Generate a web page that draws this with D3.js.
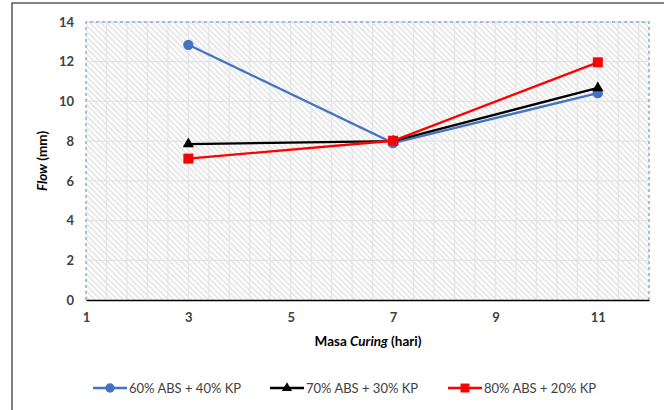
<!DOCTYPE html>
<html>
<head>
<meta charset="utf-8">
<script src="https://cdn.jsdelivr.net/npm/d3@7"></script>
<style>
  html, body { margin: 0; padding: 0; background: #fff; }
  svg { display: block; font-family: Lato, "Open Sans", "Liberation Sans", sans-serif; }
</style>
</head>
<body>
<svg id="chart" width="664" height="410"></svg>
<script>
// Curing time (days) on the x axis
const days = [3, 7, 11];
// Flow (mm) per mix
const flowAbs60 = [12.85, 7.9, 10.42];
const flowAbs70 = [7.85, 8.0, 10.68];
const flowAbs80 = [7.12, 8.02, 11.97];
const seriesNames = ["60% ABS + 40% KP", "70% ABS + 30% KP", "80% ABS + 20% KP"];
const xTicks = [1, 3, 5, 7, 9, 11];
const yTicks = [0, 2, 4, 6, 8, 10, 12, 14];

const series = [
  { name: seriesNames[0], values: flowAbs60, color: "#4472c4", symbol: d3.symbolCircle, size: 85 },
  { name: seriesNames[1], values: flowAbs70, color: "#000000", symbol: d3.symbolTriangle, size: 55 },
  { name: seriesNames[2], values: flowAbs80, color: "#ff0000", symbol: d3.symbolSquare, size: 100 }
];

const svg = d3.select("#chart");
const plot = { left: 86, right: 649, top: 22, bottom: 300 };

const x = d3.scaleLinear().domain([1, 12]).range([plot.left, plot.right]);
const y = d3.scaleLinear().domain([0, 14]).range([plot.bottom, plot.top]);

// Outer chart frame
svg.append("rect")
  .attr("x", 12).attr("y", 3).attr("width", 700).attr("height", 460)
  .attr("fill", "none").attr("stroke", "#595959").attr("stroke-width", 1.5);

// Diagonal hatch fill for the plot area
const defs = svg.append("defs");
const pat = defs.append("pattern")
  .attr("id", "hatch").attr("patternUnits", "userSpaceOnUse")
  .attr("width", 4).attr("height", 4)
  .attr("patternTransform", "rotate(45)");
pat.append("rect").attr("width", 4).attr("height", 4).attr("fill", "#ffffff");
pat.append("rect").attr("width", 4).attr("height", 1.5).attr("fill", "#e2e2e2");

svg.append("rect")
  .attr("x", plot.left).attr("y", plot.top)
  .attr("width", plot.right - plot.left).attr("height", plot.bottom - plot.top)
  .attr("fill", "url(#hatch)");

// Minor vertical gridlines every 0.4 day
const minorX = d3.range(1.4, 12, 0.4);
svg.append("g").selectAll("line").data(minorX).join("line")
  .attr("x1", d => x(d)).attr("x2", d => x(d))
  .attr("y1", plot.top).attr("y2", plot.bottom)
  .attr("stroke", "#e6e6e6").attr("stroke-width", 1.3);

// Major horizontal gridlines
svg.append("g").selectAll("line").data(yTicks.slice(1)).join("line")
  .attr("x1", plot.left).attr("x2", plot.right)
  .attr("y1", d => y(d)).attr("y2", d => y(d))
  .attr("stroke", "#e3e3e3").attr("stroke-width", 1.3);

// Dashed plot-area border
svg.append("path")
  .attr("d", `M${plot.left},${plot.bottom}V${plot.top}H${plot.right}V${plot.bottom}`)
  .attr("fill", "none").attr("stroke", "#8eaadb").attr("stroke-width", 1.5)
  .attr("stroke-dasharray", "3,3");

// Axes
const xAxis = svg.append("g").attr("transform", `translate(0,${plot.bottom})`)
  .call(d3.axisBottom(x).tickValues(xTicks).tickSize(0).tickPadding(13).tickFormat(d3.format("d")));
xAxis.select(".domain").attr("stroke", "#000").attr("stroke-width", 1.3);

const yAxis = svg.append("g").attr("transform", `translate(${plot.left},0)`)
  .call(d3.axisLeft(y).tickValues(yTicks).tickSize(0).tickPadding(12).tickFormat(d3.format("d")));
yAxis.select(".domain").remove();

svg.selectAll(".tick text")
  .attr("font-size", 13).attr("font-weight", 700).attr("fill", "#404040")
  .attr("font-family", "Lato, 'Open Sans', sans-serif");

// Axis titles
const xt = svg.append("text")
  .attr("x", 368).attr("y", 346).attr("text-anchor", "middle")
  .attr("font-size", 13.5).attr("font-weight", 700).attr("fill", "#000");
xt.append("tspan").text("Masa ");
xt.append("tspan").attr("font-style", "italic").text("Curing");
xt.append("tspan").text(" (hari)");

const yt = svg.append("text")
  .attr("transform", "translate(47,161) rotate(-90)").attr("text-anchor", "middle")
  .attr("font-size", 13.5).attr("font-weight", 700).attr("fill", "#000");
yt.append("tspan").attr("font-style", "italic").text("Flow");
yt.append("tspan").text(" (mm)");

// Series lines and markers
const line = d3.line().x((d, i) => x(days[i])).y(d => y(d));
series.forEach(s => {
  svg.append("path").datum(s.values)
    .attr("d", line).attr("fill", "none")
    .attr("stroke", s.color).attr("stroke-width", 2.3);
  svg.append("g").selectAll("path").data(s.values).join("path")
    .attr("transform", (d, i) => `translate(${x(days[i])},${y(d)})`)
    .attr("d", d3.symbol().type(s.symbol).size(s.size))
    .attr("fill", s.color);
});

// Legend
const legendX = [93, 270, 448];
series.forEach((s, i) => {
  const g = svg.append("g").attr("transform", `translate(${legendX[i]},388)`);
  g.append("line").attr("x1", 0).attr("x2", 34).attr("y1", 0).attr("y2", 0)
    .attr("stroke", s.color).attr("stroke-width", 2.3);
  g.append("path").attr("transform", "translate(17,0)")
    .attr("d", d3.symbol().type(s.symbol).size(s.size * 0.8)).attr("fill", s.color);
  g.append("text").attr("x", 36).attr("y", 4.5)
    .attr("font-size", 13).attr("fill", "#404040").text(s.name);
});
</script>
</body>
</html>
